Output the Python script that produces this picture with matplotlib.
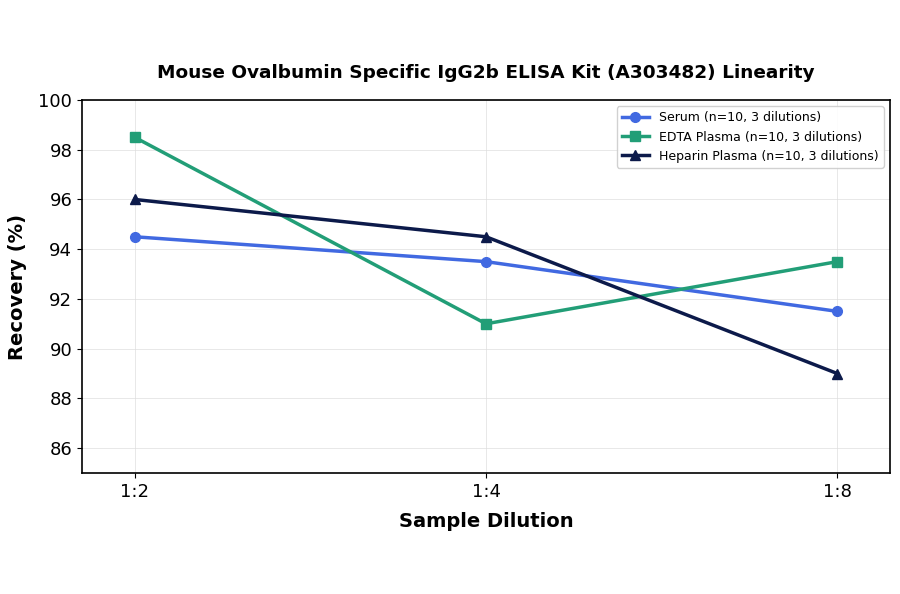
import matplotlib
matplotlib.use("Agg")
import matplotlib.pyplot as plt

dilutions = ["1:2", "1:4", "1:8"]
serum = [94.5, 93.5, 91.5]
edta = [98.5, 91.0, 93.5]
heparin = [96.0, 94.5, 89.0]
labels = ["Serum (n=10, 3 dilutions)", "EDTA Plasma (n=10, 3 dilutions)",
          "Heparin Plasma (n=10, 3 dilutions)"]
yticks = [86, 88, 90, 92, 94, 96, 98, 100]

fig = plt.figure(figsize=(9, 5.94), dpi=100)
ax = fig.add_axes([82/900, 1-473/594, (890-82)/900, (473-100)/594])
x = list(range(len(dilutions)))
ax.plot(x, serum, color="#4169E1", marker="o", lw=2.5, ms=7, label=labels[0])
ax.plot(x, edta, color="#229E77", marker="s", lw=2.5, ms=7, label=labels[1])
ax.plot(x, heparin, color="#0C1A4A", marker="^", lw=2.5, ms=7, label=labels[2])
ax.set_xticks(x)
ax.set_xticklabels(dilutions)
ax.set_xlim(-0.15, 2.15)
ax.set_ylim(85, 100)
ax.set_yticks(yticks)
ax.tick_params(labelsize=13)
ax.grid(True, color="#dddddd", lw=0.6, alpha=0.8)
for s in ax.spines.values():
    s.set_linewidth(1.2)
ax.set_xlabel("Sample Dilution", fontsize=14, fontweight="bold", labelpad=8)
ax.set_ylabel("Recovery (%)", fontsize=14, fontweight="bold", labelpad=8)
ax.set_title("Mouse Ovalbumin Specific IgG2b ELISA Kit (A303482) Linearity",
             fontsize=13.3, fontweight="bold", pad=16)
ax.legend(loc="upper right", fontsize=9, framealpha=0.9, handlelength=2.2)
fig.savefig("out.png", dpi=100)
